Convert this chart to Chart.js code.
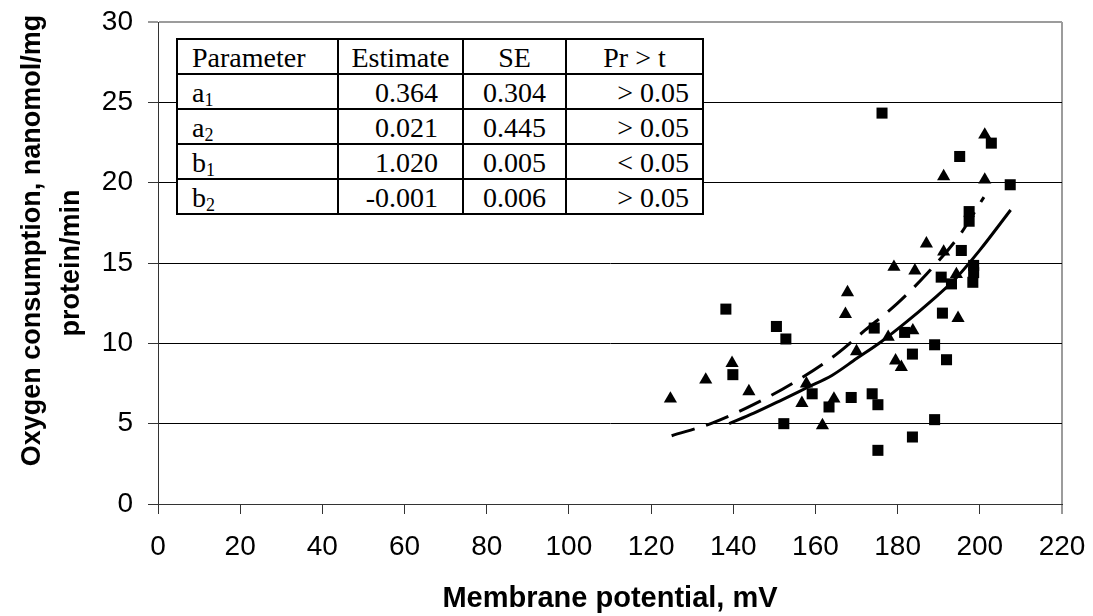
<!DOCTYPE html>
<html>
<head>
<meta charset="utf-8">
<script src="https://cdn.jsdelivr.net/npm/chart.js@4.4.1/dist/chart.umd.min.js"></script>
<style>
  html, body { margin: 0; padding: 0; background: #fff; }
  #wrap { position: relative; width: 1093px; height: 616px; }
  #c { position: absolute; left: 0; top: 0; }
  #param {
    position: absolute; left: 176px; top: 38px;
    border-collapse: collapse; background: #fff;
    font-family: "Liberation Serif", "Times New Roman", serif;
    font-size: 28px; color: #000;
  }
  #param td {
    border: 2px solid #000; height: 32px; padding: 0 0 1px 0;
    line-height: 1; vertical-align: bottom; white-space: nowrap;
  }
  #param sub { font-size: 18px; vertical-align: -4px; line-height: 0; }
  #param .p { text-align: left; padding-left: 14px; }
  #param .c { text-align: center; }
  #param .r1 { text-align: right; padding-right: 24px; }
  #param .r2 { text-align: right; padding-right: 13px; }
</style>
</head>
<body>
<div id="wrap">
  <canvas id="c" width="1093" height="616"></canvas>
  <table id="param">
    <colgroup><col style="width:161px"><col style="width:125px"><col style="width:103px"><col style="width:137px"></colgroup>
    <tbody id="tbody"></tbody>
  </table>
</div>
<script>
// ---- data ----
const squareX = [138.2, 139.9, 150.5, 152.8, 152.3, 159.2, 163.3, 168.7, 173.8, 174.3, 175.2, 175.2, 176.2, 181.7, 183.6, 183.6, 189.0, 189.0, 190.9, 191.9, 190.6, 193.1, 195.1, 195.5, 197.4, 197.4, 198.5, 198.5, 198.3, 202.8, 207.4];
const squareY = [12.13, 8.05, 11.05, 10.27, 5.0, 6.86, 6.04, 6.63, 6.86, 10.95, 6.18, 3.34, 24.33, 10.68, 9.33, 4.17, 9.91, 5.25, 11.88, 8.98, 14.12, 13.7, 21.63, 15.78, 18.2, 17.6, 14.85, 14.4, 13.8, 22.46, 19.87];

const triangleX = [124.7, 133.3, 139.7, 143.8, 156.7, 157.8, 161.7, 164.5, 167.3, 167.8, 170.0, 177.7, 179.1, 179.5, 180.9, 183.7, 184.2, 187.0, 191.2, 191.2, 194.3, 194.7, 201.2, 201.2];
const triangleY = [6.55, 7.73, 8.77, 7.01, 6.28, 7.49, 4.89, 6.55, 11.82, 13.17, 9.5, 10.39, 14.75, 8.92, 8.52, 10.8, 14.52, 16.2, 15.7, 20.39, 14.3, 11.57, 22.98, 20.18];

const dashedX = [125, 135, 145, 155, 165, 172, 180, 187, 195, 201];
const dashedY = [4.25, 5.05, 6.2, 7.6, 9.3, 10.8, 12.5, 14.3, 16.7, 19.1];

const solidX = [139, 145, 152, 158, 164, 170, 176, 182, 188, 194, 200, 207.5];
const solidY = [5.0, 5.65, 6.5, 7.25, 8.0, 9.05, 10.1, 11.3, 12.6, 14.0, 15.8, 18.3];

const xTitle = 'Membrane potential, mV';
const yTitle = ['      Oxygen consumption, nanomol/mg', 'protein/min'];

const tableHeader = ['Parameter', 'Estimate', 'SE', 'Pr > t'];
const paramNames = [['a', '1'], ['a', '2'], ['b', '1'], ['b', '2']];
const paramEstimate = ['0.364', '0.021', '1.020', '-0.001'];
const paramSE = ['0.304', '0.445', '0.005', '0.006'];
const paramPr = ['> 0.05', '> 0.05', '< 0.05', '> 0.05'];

// ---- table ----
const tb = document.getElementById('tbody');
(function () {
  const h = document.createElement('tr');
  const cls = ['p', 'c', 'c', 'c'];
  tableHeader.forEach((t, i) => {
    const td = document.createElement('td');
    td.className = cls[i]; td.textContent = t; h.appendChild(td);
  });
  tb.appendChild(h);
  for (let i = 0; i < paramNames.length; i++) {
    const tr = document.createElement('tr');
    const a = document.createElement('td'); a.className = 'p';
    a.appendChild(document.createTextNode(paramNames[i][0]));
    const s = document.createElement('sub'); s.textContent = paramNames[i][1]; a.appendChild(s);
    const b = document.createElement('td'); b.className = 'r1'; b.textContent = paramEstimate[i];
    const c = document.createElement('td'); c.className = 'c'; c.textContent = paramSE[i];
    const d = document.createElement('td'); d.className = 'r2'; d.textContent = paramPr[i];
    tr.append(a, b, c, d);
    tb.appendChild(tr);
  }
})();

// ---- chart ----
const zip = (xs, ys) => xs.map((x, i) => ({ x: x, y: ys[i] }));
const FONT = '"Liberation Sans", Arial, sans-serif';

new Chart(document.getElementById('c'), {
  type: 'scatter',
  data: {
    datasets: [
      {
        label: 'Fit 1', type: 'line', data: zip(dashedX, dashedY),
        borderColor: '#000', borderWidth: 3, borderDash: [24, 12],
        pointRadius: 0, fill: false, cubicInterpolationMode: 'monotone', order: 1
      },
      {
        label: 'Fit 2', type: 'line', data: zip(solidX, solidY),
        borderColor: '#000', borderWidth: 3,
        pointRadius: 0, fill: false, cubicInterpolationMode: 'monotone', order: 2
      },
      {
        label: 'Squares', data: zip(squareX, squareY),
        pointStyle: 'rect', pointRadius: 7.8, backgroundColor: '#000', borderColor: '#000', borderWidth: 0, order: 3
      },
      {
        label: 'Triangles', data: zip(triangleX, triangleY),
        pointStyle: 'triangle', pointRadius: 7.6, backgroundColor: '#000', borderColor: '#000', borderWidth: 0, order: 4
      }
    ]
  },
  options: {
    responsive: false,
    animation: false,
    devicePixelRatio: 1,
    layout: { padding: { top: 22, right: 31, left: 0, bottom: 0 } },
    plugins: { legend: { display: false }, tooltip: { enabled: false } },
    scales: {
      x: {
        type: 'linear', min: 0, max: 220,
        ticks: { stepSize: 20, color: '#000', font: { family: FONT, size: 28 }, padding: 16, maxRotation: 0 },
        grid: {
          drawOnChartArea: true, drawTicks: true, tickLength: 10,
          color: ctx => (ctx.tick && ctx.tick.value === 220) ? '#9c9c9c' : 'rgba(0,0,0,0)',
          lineWidth: ctx => (ctx.tick && ctx.tick.value === 220) ? 2 : 1,
          tickColor: '#333', tickWidth: 1
        },
        border: { display: true, color: '#333', width: 1 },
        title: { display: true, text: xTitle, color: '#000', font: { family: FONT, size: 29, weight: 'bold' }, padding: { top: 0, bottom: 0 } },
        afterFit: s => { s.height = 112; s.paddingLeft = 0; s.paddingRight = 0; }
      },
      y: {
        type: 'linear', min: 0, max: 30,
        ticks: { stepSize: 5, color: '#000', font: { family: FONT, size: 28 }, padding: 15 },
        grid: {
          drawOnChartArea: true, drawTicks: true, tickLength: 10,
          color: ctx => (ctx.tick && ctx.tick.value === 30) ? '#9c9c9c' : '#000',
          lineWidth: ctx => (ctx.tick && ctx.tick.value === 30) ? 2 : 1,
          tickColor: '#333', tickWidth: 1
        },
        border: { display: true, color: '#333', width: 1 },
        title: { display: true, text: yTitle, color: '#000', font: { family: FONT, size: 27, weight: 'bold', lineHeight: 1.45 }, padding: { top: 13, bottom: 0 } },
        afterFit: s => { s.width = 158; s.paddingTop = 0; s.paddingBottom = 0; }
      }
    }
  }
});
</script>
</body>
</html>
